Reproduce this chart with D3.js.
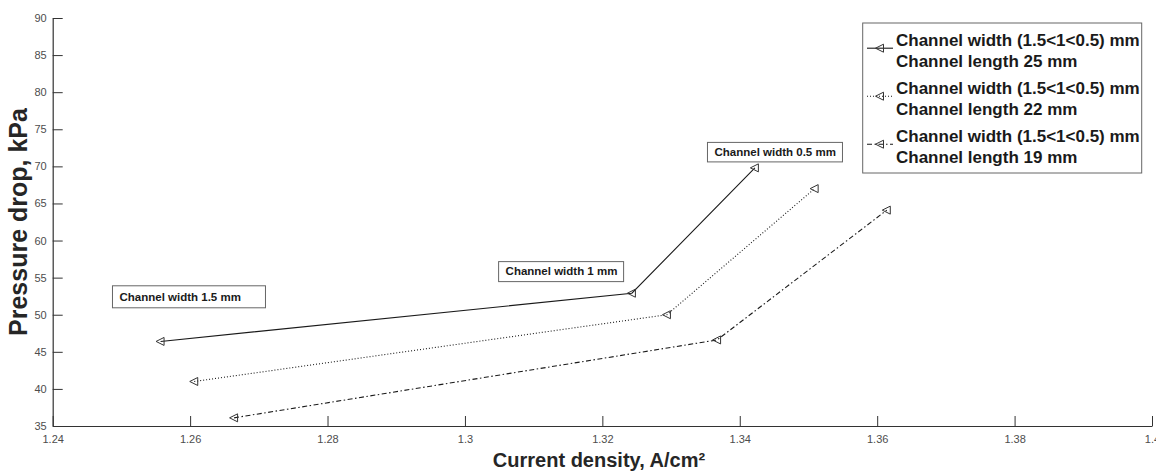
<!DOCTYPE html>
<html><head><meta charset="utf-8">
<script src="https://cdn.jsdelivr.net/npm/d3@7"></script>
<style>
body{margin:0;background:#fff}
text{font-family:"Liberation Sans",Arial,sans-serif}
</style>
</head><body><svg id="c" width="1156" height="473"></svg>
<script>
// ---- data ----
const xTicks = [1.24, 1.26, 1.28, 1.30, 1.32, 1.34, 1.36, 1.38, 1.40];
const xTickLabels = ["1.24", "1.26", "1.28", "1.3", "1.32", "1.34", "1.36", "1.38", "1.4"];
const yTicks = [35, 40, 45, 50, 55, 60, 65, 70, 75, 80, 85, 90];
const seriesLine1 = "Channel width (1.5<1<0.5) mm";
const seriesLine2 = ["Channel length 25 mm", "Channel length 22 mm", "Channel length 19 mm"];
const currentDensity25 = [1.2557, 1.3243, 1.3422];
const pressure25 = [46.4, 52.9, 69.8];
const currentDensity22 = [1.2606, 1.3294, 1.3509];
const pressure22 = [41.0, 50.0, 67.0];
const currentDensity19 = [1.2664, 1.3367, 1.3614];
const pressure19 = [36.1, 46.6, 64.1];
const annotationTexts = ["Channel width 1.5 mm", "Channel width 1 mm", "Channel width 0.5 mm"];
const xTitle = "Current density, A/cm²";
const yTitle = "Pressure drop, kPa";

// ---- layout ----
const plot = {left: 52.7, right: 1152, top: 18, bottom: 426};
const svg = d3.select("#c");
const x = d3.scaleLinear().domain([1.24, 1.40]).range([plot.left, plot.right]);
const y = d3.scaleLinear().domain([35, 90]).range([plot.bottom, plot.top]);
const axisColor = "#333";
const lineColor = "#1a1a1a";

// axes
const gx = svg.append("g").attr("transform", `translate(0,${plot.bottom})`)
  .call(d3.axisBottom(x).tickValues(xTicks).tickFormat((d, i) => xTickLabels[i])
    .tickSizeInner(-10).tickSizeOuter(0).tickPadding(9.5));
const gy = svg.append("g").attr("transform", `translate(${plot.left},0)`)
  .call(d3.axisLeft(y).tickValues(yTicks).tickFormat(d3.format("d"))
    .tickSizeInner(-10).tickSizeOuter(0).tickPadding(6));
[gx, gy].forEach(g => {
  g.select(".domain").attr("stroke", axisColor).attr("stroke-width", 1.2);
  g.selectAll(".tick line").attr("stroke", axisColor).attr("stroke-width", 1);
  g.selectAll(".tick text").attr("fill", "#4d4d4d").attr("font-size", 11)
    .attr("font-family", '"Liberation Sans",Arial,sans-serif');
});

// titles
svg.append("text").attr("x", 599).attr("y", 467).attr("text-anchor", "middle")
  .attr("font-weight", "bold").attr("font-size", 20).attr("fill", "#262626").text(xTitle);
svg.append("text").attr("transform", "translate(27,222) rotate(-90)").attr("text-anchor", "middle")
  .attr("font-weight", "bold").attr("font-size", 25).attr("fill", "#262626").text(yTitle);

// series
const series = [
  {xs: currentDensity25, ys: pressure25, dash: null},
  {xs: currentDensity22, ys: pressure22, dash: "1,2"},
  {xs: currentDensity19, ys: pressure19, dash: "5,2.5,1.5,2.5"}
];
const markerPath = "M-4.5,0L3.5,-4L3.5,4Z";
const line = d3.line().x(d => x(d[0])).y(d => y(d[1]));
series.forEach(s => {
  const pts = s.xs.map((v, i) => [v, s.ys[i]]);
  svg.append("path").attr("d", line(pts)).attr("fill", "none")
    .attr("stroke", lineColor).attr("stroke-width", 1.1)
    .attr("stroke-dasharray", s.dash);
  svg.selectAll(null).data(pts).enter().append("path")
    .attr("d", markerPath).attr("transform", d => `translate(${x(d[0])},${y(d[1])})`)
    .attr("fill", "none").attr("stroke", "#333").attr("stroke-width", 1);
});

// annotation boxes (left/top in data coords, width/height in px)
const annBoxes = [
  {left: x(1.2487), top: y(53.9), w: 153, h: 22},
  {left: x(1.3049), top: y(57.16), w: 125, h: 20},
  {left: x(1.3353), top: y(73.23), w: 135, h: 19.5}
];
annBoxes.forEach((b, i) => {
  svg.append("rect").attr("x", b.left).attr("y", b.top).attr("width", b.w).attr("height", b.h)
    .attr("fill", "#fff").attr("stroke", "#666").attr("stroke-width", 1);
  svg.append("text").attr("x", b.left + 7).attr("y", b.top + b.h - 6.3)
    .attr("font-size", 11.5).attr("font-weight", "bold").attr("fill", "#1a1a1a")
    .text(annotationTexts[i]);
});

// legend
const lg = svg.append("g");
lg.append("rect").attr("x", 862.7).attr("y", 23).attr("width", 279).attr("height", 150)
  .attr("fill", "#fff").attr("stroke", "#666").attr("stroke-width", 1);
series.forEach((s, i) => {
  const base = 45.7 + i * 48;
  const my = base + 2.5;
  lg.append("line").attr("x1", 867).attr("x2", 893).attr("y1", my).attr("y2", my)
    .attr("stroke", lineColor).attr("stroke-width", 1.1).attr("stroke-dasharray", s.dash);
  lg.append("path").attr("d", markerPath).attr("transform", `translate(880,${my})`)
    .attr("fill", "none").attr("stroke", "#333");
  lg.append("text").attr("x", 896).attr("y", base).attr("font-size", 17).attr("font-weight", "bold")
    .attr("fill", "#1a1a1a").text(seriesLine1);
  lg.append("text").attr("x", 896).attr("y", base + 21).attr("font-size", 17).attr("font-weight", "bold")
    .attr("fill", "#1a1a1a").text(seriesLine2[i]);
});
</script>
</body></html>
